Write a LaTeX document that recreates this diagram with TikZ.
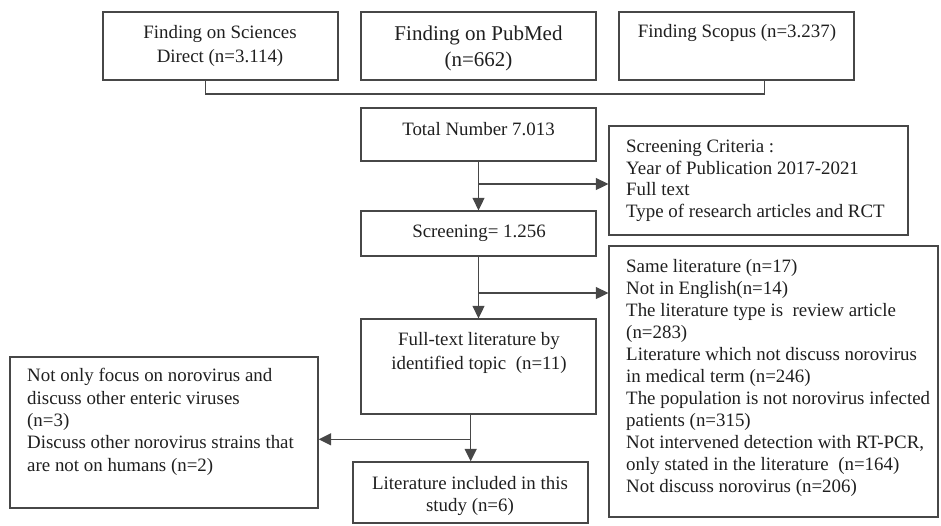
\documentclass[tikz,border=0pt]{standalone}
\usepackage{fontspec}
\setmainfont{Liberation Serif}
\usetikzlibrary{arrows.meta,calc,fit}
\tikzset{
  box/.style={draw=black!72, line width=1.3pt, inner sep=0pt},
  line/.style={draw=black!72, line width=1.3pt},
  arr/.style={line, -{Triangle[length=12.5pt,width=12pt]}},
  txt/.style={inner sep=0pt, text=black!88, font=\fontsize{18.9}{22}\selectfont},
}
\begin{document}
\begin{tikzpicture}[x=1pt,y=-1pt]
\useasboundingbox (0,0) rectangle (941,525);
% boxes
\node[box, fit={(103,12) (338,80)}] (sd) {};
\node[box, fit={(361,12) (596,80)}] (pm) {};
\node[box, fit={(619,12) (854,80)}] (sc) {};
\node[box, fit={(361,108) (596,161)}] (tot) {};
\node[box, fit={(609,126) (908,235)}] (crit) {};
\node[box, fit={(361,211) (596,256)}] (scr) {};
\node[box, fit={(609,246) (938,517)}] (exc) {};
\node[box, fit={(361,319) (596,414)}] (ft) {};
\node[box, fit={(10,357) (318,508)}] (lft) {};
\node[box, fit={(353,462) (588,523)}] (lit) {};
% texts
\node[txt, anchor=north, align=center, font=\fontsize{18.9}{24}\selectfont] (tsd) at (220,21.2) {\strut Finding on Sciences\\Direct (n=3.114)};
\node[txt, anchor=north, align=center, font=\fontsize{21}{26}\selectfont] (tpm) at (478.5,21.8) {\strut Finding on PubMed\\(n=662)};
\node[txt, anchor=north] (tsc) at (737,22.3) {\strut Finding Scopus (n=3.237)};
\node[txt, anchor=north] (ttot) at (478.5,119.6) {\strut Total Number 7.013};
\node[txt, anchor=north west, align=left, font=\fontsize{18.9}{21.5}\selectfont] (tcrit) at (626,137.6) {\strut Screening Criteria :\\Year of Publication 2017-2021\\Full text\\Type of research articles and RCT};
\node[txt, anchor=north] (tscr) at (479,222.3) {\strut Screening= 1.256};
\node[txt, anchor=north west, align=left] (texc) at (626,257.3) {\strut Same literature (n=17)\\Not in English(n=14)\\The literature type is\ \ review article\\(n=283)\\Literature which not discuss norovirus\\in medical term (n=246)\\The population is not norovirus infected\\patients (n=315)\\Not intervened detection with RT-PCR,\\only stated in the literature\ \ (n=164)\\Not discuss norovirus (n=206)};
\node[txt, anchor=north, align=center, font=\fontsize{18.9}{24}\selectfont] (tft) at (479,328.5) {\strut Full-text literature by\\identified topic\ \ (n=11)};
\node[txt, anchor=north west, align=left, font=\fontsize{18.9}{22.3}\selectfont] (tlft) at (27,366.1) {\strut Not only focus on norovirus and\\discuss other enteric viruses\\(n=3)\\Discuss other norovirus strains that\\are not on humans (n=2)};
\node[txt, anchor=north, align=center, font=\fontsize{18.9}{22.4}\selectfont] (tlit) at (470,473.6) {\strut Literature included in this\\study (n=6)};
% connectors
\coordinate (b1) at ($(sd.south west)+(103,0)$);
\coordinate (b2) at ($(sc.south west)+(146,0)$);
\draw[line] (b1) -- ++(0,13.3) -| (b2);
\draw[arr] (tot.south) -- (scr.north);
\coordinate (j1) at (478.5,184);
\draw[arr] (j1) -- (j1 -| crit.west);
\draw[arr] (scr.south) -- (ft.north);
\coordinate (j2) at (478.5,293);
\draw[arr] (j2) -- (j2 -| exc.west);
\coordinate (f1) at (ft.south -| 470.7,0);
\coordinate (f2) at (lit.north -| 470.7,0);
\draw[arr] (f1) -- (f2);
\coordinate (j3) at (470.7,439.3);
\draw[arr] (j3) -- (j3 -| lft.east);
\end{tikzpicture}
\end{document}
